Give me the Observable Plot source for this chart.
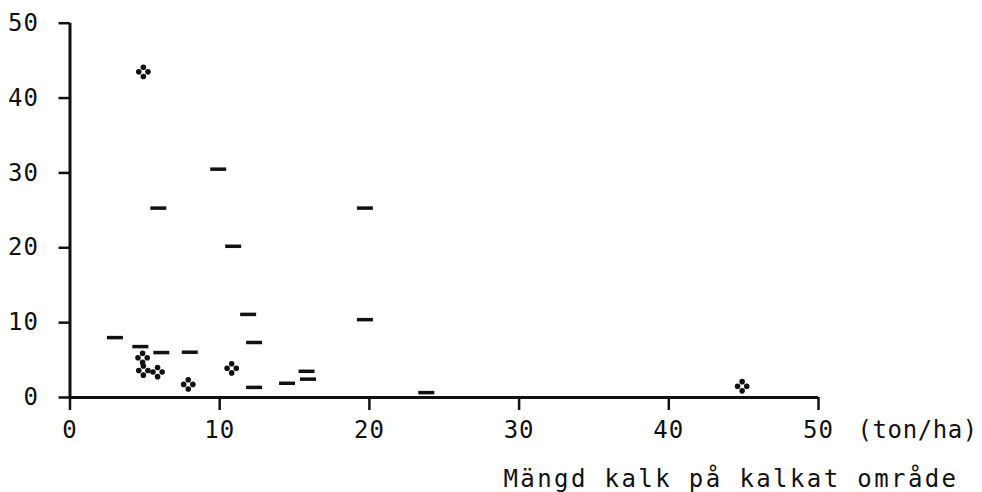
<!DOCTYPE html>
<html>
<head>
<meta charset="utf-8">
<script src="https://cdn.jsdelivr.net/npm/d3@7"></script>
<script src="https://cdn.jsdelivr.net/npm/@observablehq/plot@0.6"></script>
<style>
  html, body { margin: 0; padding: 0; background: #fff; }
  #chart svg { display: block; }
  #chart g[aria-label^="x-axis tick"] path,
  #chart g[aria-label^="y-axis tick"] path { stroke-width: 2.5; }
  #chart g[aria-label$="tick label"] { letter-spacing: 1px; }
</style>
</head>
<body>
<div id="chart"></div>
<script>
// Diamond-cluster markers (❖)
const cloverX = [4.9, 4.85, 4.9, 5.85, 7.9, 10.8, 44.9];
const cloverY = [43.5, 5.3, 3.6, 3.4, 1.75, 3.9, 1.5];

// Dash markers (—)
const dashX = [3.0, 4.7, 5.9, 6.1, 8.0, 9.9, 10.9, 11.9, 12.3, 12.3, 14.5, 15.8, 15.9, 19.7, 19.7, 23.8];
const dashY = [8.0, 6.8, 25.3, 6.0, 6.05, 30.5, 20.2, 11.1, 7.35, 1.35, 1.9, 3.5, 2.45, 25.3, 10.4, 0.65];

const xTicks = [0, 10, 20, 30, 40, 50];
const yTicks = [0, 10, 20, 30, 40, 50];
const unitLabel = ["(ton/ha)"];
const axisTitle = ["Mängd kalk på kalkat område"];

const clovers = cloverX.map((x, i) => ({x, y: cloverY[i]}));
const dashes = dashX.map((x, i) => ({x, y: dashY[i]}));

const dashSymbol = {
  draw(ctx) {
    ctx.moveTo(-8, -1.75);
    ctx.lineTo(8, -1.75);
    ctx.lineTo(8, 1.75);
    ctx.lineTo(-8, 1.75);
    ctx.closePath();
  }
};
const cloverSymbol = {
  draw(ctx) {
    const r = 2.8, o = 4.6;
    for (const [dx, dy] of [[0, -o], [o, 0], [0, o], [-o, 0]]) {
      ctx.moveTo(dx + r, dy);
      ctx.arc(dx, dy, r, 0, 2 * Math.PI);
    }
  }
};

const chart = Plot.plot({
  width: 982,
  height: 492,
  marginLeft: 69.5,
  marginRight: 164,
  marginTop: 22.7,
  marginBottom: 95,
  style: {
    fontFamily: "'DejaVu Sans Mono', monospace",
    fontSize: "24px",
    color: "#111",
    background: "#fff"
  },
  x: {
    domain: [0, 50],
    ticks: xTicks,
    tickFormat: d => String(d),
    tickSize: 13,
    tickPadding: 10,
    label: null
  },
  y: {
    domain: [0, 50],
    ticks: yTicks,
    tickFormat: d => String(d),
    tickSize: 11,
    tickPadding: 20,
    label: null
  },
  marks: [
    Plot.ruleX([0], {stroke: "#111", strokeWidth: 3}),
    Plot.ruleY([0], {stroke: "#111", strokeWidth: 3}),
    Plot.dot(dashes, {x: "x", y: "y", symbol: dashSymbol, r: 5, fill: "#111", stroke: null}),
    Plot.dot(clovers, {x: "x", y: "y", symbol: cloverSymbol, r: 5, fill: "#111", stroke: null}),
    Plot.text(unitLabel, {
      text: d => d,
      frameAnchor: "bottom-right",
      textAnchor: "start",
      lineAnchor: "top",
      dx: 39,
      dy: 23,
      fill: "#111",
      fontSize: 24
    }),
    Plot.text(axisTitle, {
      text: d => d,
      frameAnchor: "bottom-right",
      textAnchor: "start",
      lineAnchor: "top",
      dx: -315,
      dy: 72,
      fill: "#111",
      fontSize: 24
    })
  ]
});
document.getElementById("chart").appendChild(chart);
// letter spacing for the free labels
d3.select(chart).selectAll('g[aria-label="text"] text').each(function() {
  const t = this.textContent;
  if (t === axisTitle[0]) this.setAttribute("letter-spacing", "2.4");
  if (t === unitLabel[0]) this.setAttribute("letter-spacing", "0.6");
});
</script>
</body>
</html>
